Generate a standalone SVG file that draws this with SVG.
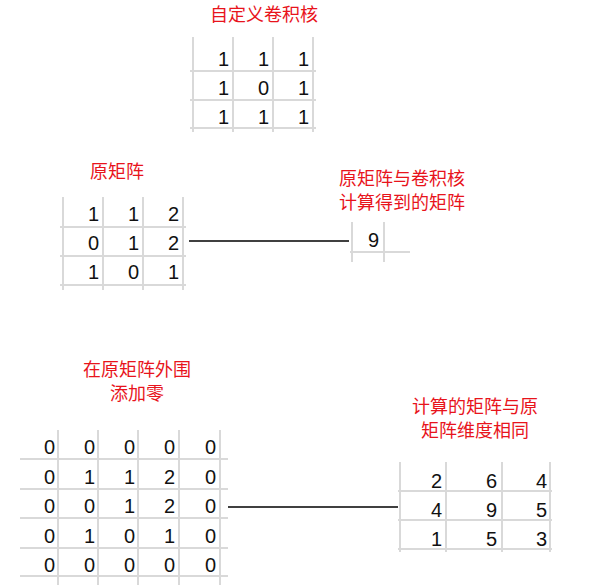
<svg xmlns="http://www.w3.org/2000/svg" width="610" height="587" viewBox="0 0 610 587">
<style>
.g{stroke:#d9d9d9;stroke-width:2;fill:none}
.n{font-family:"Liberation Sans",Arial,sans-serif;font-size:20px;fill:#111;text-anchor:end}
.l{font-family:"Noto Sans CJK SC",sans-serif;font-size:18px;fill:#e8141c;text-anchor:middle}
.c{stroke:#000;stroke-width:1.3}
</style>
<rect width="610" height="587" fill="#fff"/>
<g id="kernel">
<text class="l" x="264" y="21">自定义卷积核</text>
<path class="g" d="M193 37V132M233 37V132M273 37V132M313 37V132M190 71H316M190 100H316M190 128H316"/>
<text class="n" x="229" y="66">1</text><text class="n" x="269" y="66">1</text><text class="n" x="309" y="66">1</text>
<text class="n" x="229" y="95">1</text><text class="n" x="269" y="95">0</text><text class="n" x="309" y="95">1</text>
<text class="n" x="229" y="124">1</text><text class="n" x="269" y="124">1</text><text class="n" x="309" y="124">1</text>
</g>
<g id="orig">
<text class="l" x="117" y="178">原矩阵</text>
<path class="g" d="M63 197V290M103 197V290M143 197V290M183 197V290M60 227H186M60 256H186M60 285H186"/>
<text class="n" x="99" y="221">1</text><text class="n" x="139" y="221">1</text><text class="n" x="179" y="221">2</text>
<text class="n" x="99" y="250">0</text><text class="n" x="139" y="250">1</text><text class="n" x="179" y="250">2</text>
<text class="n" x="99" y="279">1</text><text class="n" x="139" y="279">0</text><text class="n" x="179" y="279">1</text>
</g>
<g id="result1">
<text class="l" x="402" y="185">原矩阵与卷积核</text>
<text class="l" x="402" y="209">计算得到的矩阵</text>
<path class="g" d="M352 222V262M384 222V262M350 252H410"/>
<text class="n" x="379" y="247">9</text>
</g>
<g id="padded">
<text class="l" x="137" y="376">在原矩阵外围</text>
<text class="l" x="137" y="400">添加零</text>
<path class="g" d="M58 430V585M98 430V585M138 430V585M179 430V585M220 430V585M20 459H228M20 489H228M20 518H228M20 548H228M20 576H228"/>
<g>
<text class="n" x="55" y="454">0</text><text class="n" x="95" y="454">0</text><text class="n" x="135" y="454">0</text><text class="n" x="175" y="454">0</text><text class="n" x="216" y="454">0</text>
<text class="n" x="55" y="484">0</text><text class="n" x="95" y="484">1</text><text class="n" x="135" y="484">1</text><text class="n" x="175" y="484">2</text><text class="n" x="216" y="484">0</text>
<text class="n" x="55" y="513">0</text><text class="n" x="95" y="513">0</text><text class="n" x="135" y="513">1</text><text class="n" x="175" y="513">2</text><text class="n" x="216" y="513">0</text>
<text class="n" x="55" y="543">0</text><text class="n" x="95" y="543">1</text><text class="n" x="135" y="543">0</text><text class="n" x="175" y="543">1</text><text class="n" x="216" y="543">0</text>
<text class="n" x="55" y="572">0</text><text class="n" x="95" y="572">0</text><text class="n" x="135" y="572">0</text><text class="n" x="175" y="572">0</text><text class="n" x="216" y="572">0</text>
</g>
</g>
<g id="result2">
<text class="l" x="475" y="413">计算的矩阵与原</text>
<text class="l" x="475" y="437">矩阵维度相同</text>
<path class="g" d="M400 462V552M446 462V552M502 462V552M550 462V552M398 491H552M398 520H552M398 549H552"/>
<text class="n" x="442" y="488">2</text><text class="n" x="497" y="488">6</text><text class="n" x="547" y="488">4</text>
<text class="n" x="442" y="517">4</text><text class="n" x="497" y="517">9</text><text class="n" x="547" y="517">5</text>
<text class="n" x="442" y="546">1</text><text class="n" x="497" y="546">5</text><text class="n" x="547" y="546">3</text>
</g>
<g id="connectors">
<line class="c" x1="189" y1="241" x2="349" y2="241"/>
<line class="c" x1="228" y1="507" x2="398" y2="507"/>
</g>
</svg>
